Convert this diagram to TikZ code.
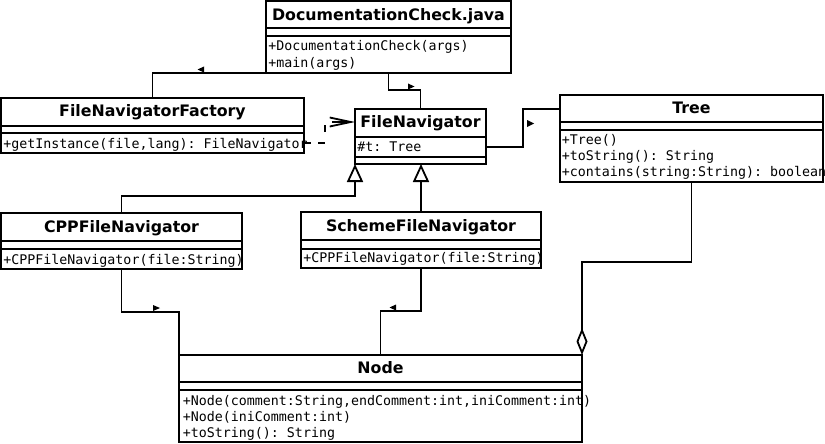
\documentclass[tikz,border=0pt]{standalone}
\usepackage{fontspec}
\setmainfont{DejaVu Sans}
\setmonofont{DejaVu Sans Mono}
\usetikzlibrary{arrows.meta,calc}
\newcommand\umlsep[2]{\draw ($(#1.north west)+(0,#2)$) -- ($(#1.north east)+(0,#2)$);}
\tikzset{
  umlbox/.style={draw, inner sep=0, outer sep=0, anchor=north west},
  ttl/.style={anchor=base, inner sep=0, font=\fontsize{15.8}{18}\selectfont\bfseries},
  mth/.style={anchor=base west, inner sep=0, font=\fontsize{13.3}{16}\selectfont\ttfamily},
  conn/.style={draw},
  inh/.style={-{Triangle[open,length=18pt,width=16pt]}},
  agg/.style={-{Diamond[open,length=27pt,width=11pt]}},
  dep/.style={dash pattern=on 7pt off 7pt on 7pt off 11pt on 7pt off 10pt on 40pt, -{Straight Barb[length=21pt,width=9pt]}},
  dirmark/.style={fill=black}
}
\begin{document}
\begin{tikzpicture}[x=1pt, y=-1pt, line width=1.8pt]
\useasboundingbox (0,0) rectangle (825,444);
% boxes
\node[umlbox, minimum width=245pt, minimum height=72pt] (dc) at (266,1) {};
\node[umlbox, minimum width=303pt, minimum height=55pt] (fnf) at (1,98) {};
\node[umlbox, minimum width=131pt, minimum height=55pt] (fn) at (355,109) {};
\node[umlbox, minimum width=263pt, minimum height=87pt] (tree) at (560,95) {};
\node[umlbox, minimum width=241pt, minimum height=56pt] (cpp) at (1,213) {};
\node[umlbox, minimum width=240pt, minimum height=56pt] (sfn) at (301,212) {};
\node[umlbox, minimum width=403pt, minimum height=87pt] (nd) at (179,355) {};
% separators
\umlsep{dc}{27}\umlsep{dc}{35}
\umlsep{fnf}{28}\umlsep{fnf}{35}
\umlsep{fn}{28}\umlsep{fn}{48}
\umlsep{tree}{27}\umlsep{tree}{35}
\umlsep{cpp}{28}\umlsep{cpp}{36}
\umlsep{sfn}{28}\umlsep{sfn}{37}
\umlsep{nd}{27}\umlsep{nd}{35}
% titles
\node[ttl] (dct) at ($(dc.north)+(0,19.5)$) {DocumentationCheck.java};
\node[ttl] (fnft) at ($(fnf.north)+(0,19)$) {FileNavigatorFactory};
\node[ttl] (fnt) at ($(fn.north)+(0,19)$) {FileNavigator};
\node[ttl] (treet) at ($(tree.north)+(0,18.5)$) {Tree};
\node[ttl] (cppt) at ($(cpp.north)+(0,19)$) {CPPFileNavigator};
\node[ttl] (sfnt) at ($(sfn.north)+(0,19)$) {SchemeFileNavigator};
\node[ttl] (ndt) at ($(nd.north)+(0,18.5)$) {Node};
% members
\node[mth] (dcm1) at ($(dc.north west)+(1.5,50)$) {+DocumentationCheck(args)};
\node[mth] (dcm2) at ($(dc.north west)+(1.5,66)$) {+main(args)};
\node[mth] (fnfm1) at ($(fnf.north west)+(1.5,50)$) {+getInstance(file,lang): FileNavigator};
\node[mth] (fna1) at ($(fn.north west)+(1.5,42.5)$) {\#t: Tree};
\node[mth] (trm1) at ($(tree.north west)+(1,49.5)$) {+Tree()};
\node[mth] (trm2) at ($(tree.north west)+(1,65.5)$) {+toString(): String};
\node[mth] (trm3) at ($(tree.north west)+(1,81)$) {+contains(string:String): boolean};
\node[mth] (cppm1) at ($(cpp.north west)+(1.5,51)$) {+CPPFileNavigator(file:String)};
\node[mth] (sfnm1) at ($(sfn.north west)+(1.5,50.7)$) {+CPPFileNavigator(file:String)};
\node[mth] (ndm1) at ($(nd.north west)+(3,50)$) {+Node(comment:String,endComment:int,iniComment:int)};
\node[mth] (ndm2) at ($(nd.north west)+(3,66)$) {+Node(iniComment:int)};
\node[mth] (ndm3) at ($(nd.north west)+(3,82)$) {+toString(): String};
% bend points
\coordinate (k1) at (405,90);
\coordinate (k2) at (523,128);
\coordinate (k3) at (240,196);
\coordinate (k4) at (150,312);
\coordinate (k5) at (400,311);
\coordinate (k6) at (325,132);
\coordinate (k7) at (640,262);
% connectors
\draw[conn] (dc.south west) -| (fnf.north);
\draw[conn] (dc.south) |- (k1) -| (fn.north);
\draw[conn,dep] ($(fnf.south east)+(0,-10)$) -| (k6) |- ($(fn.north west)+(0,13)$);
\draw[conn] ($(fn.south east)+(0,-17)$) -| (k2) |- ($(tree.north west)+(0,14)$);
\draw[conn,inh] (cpp.north) |- (k3) -| (fn.south west);
\draw[conn,inh] (sfn.north) -- (sfn.north |- fn.south);
\draw[conn] (cpp.south) |- (k4) -| (nd.north west);
\draw[conn] (sfn.south) |- (k5) -| (nd.north);
\draw[conn,agg] (tree.south) |- (k7) -| (nd.north east);
% direction markers
\fill[dirmark] (197.5,69.5) -- (204,66.5) -- (204,72.5) -- cycle;
\fill[dirmark] (414.5,86.5) -- (408,83.5) -- (408,89.5) -- cycle;
\fill[dirmark] (534,123.5) -- (527,120) -- (527,127) -- cycle;
\fill[dirmark] (160,308) -- (153,305) -- (153,311) -- cycle;
\fill[dirmark] (389.5,307.5) -- (396,304.5) -- (396,310.5) -- cycle;
\end{tikzpicture}
\end{document}
